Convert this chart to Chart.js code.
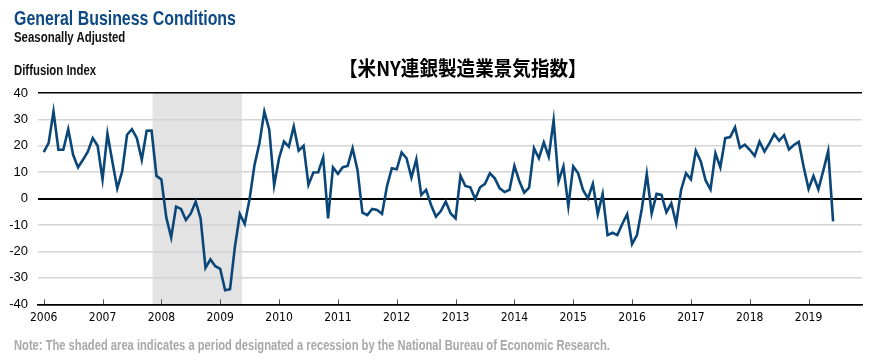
<!DOCTYPE html>
<html>
<head>
<meta charset="utf-8">
<script src="https://cdn.jsdelivr.net/npm/chart.js@4/dist/chart.umd.min.js"></script>
<style>
  body { margin: 0; background: #fff; }
  #wrap { position: relative; width: 879px; height: 361px; overflow: hidden; }
  canvas { position: absolute; left: 0; top: 0; }
  .txt { position: absolute; white-space: nowrap; font-family: "Liberation Sans", Arial, sans-serif; font-weight: bold; transform-origin: 0 0; }
</style>
</head>
<body>
<div id="wrap">
  <canvas id="EmpireChart" width="879" height="361"></canvas>
  <div class="txt" data-w="222" style="left:14px; top:6px; font-size:21px; color:#0d4a85;">General Business Conditions</div>
  <div class="txt" data-w="111" style="left:14px; top:29px; font-size:14px; color:#111;">Seasonally Adjusted</div>
  <div class="txt" data-w="82" style="left:14px; top:62px; font-size:14px; color:#111;">Diffusion Index</div>
  <div class="txt" data-w="248" style="left:339px; top:53px; font-size:20px; color:#000; font-family:'Noto Sans CJK JP', sans-serif;">【米NY連銀製造業景気指数】</div>
  <div class="txt" data-w="596" style="left:14px; top:337px; font-size:14px; color:#a8a8a8;">Note: The shaded area indicates a period designated a recession by the National Bureau of Economic Research.</div>
</div>
<script>
// squeeze the condensed-looking labels to the reference widths
document.querySelectorAll('.txt').forEach(function (el) {
  var target = +el.getAttribute('data-w');
  el.style.transform = 'scaleX(' + (target / el.offsetWidth) + ')';
});

// monthly index, Jan 2006 - Jun 2019
var startYear = 2006;
var conditions = [
  17.6, 21.0, 33.0, 18.5, 18.5, 26.3, 16.6, 11.8, 14.7, 17.8, 22.9, 20.0,
  7.3, 24.6, 14.1, 3.9, 10.3, 24.2, 26.3, 22.9, 14.7, 25.7, 25.8, 8.6,
  7.3, -7.1, -14.7, -3.0, -3.9, -8.1, -5.6, -1.1, -7.5, -26.2, -23.0, -25.6,
  -26.6, -34.7, -34.3, -18.2, -5.8, -9.6, 0.0, 12.8, 21.0, 33.0, 26.1, 5.1,
  15.3, 21.6, 19.7, 27.3, 18.2, 20.0, 5.2, 9.9, 10.0, 15.6, -7.5, 11.8,
  9.4, 11.9, 12.4, 19.1, 10.9, -5.3, -6.2, -3.9, -4.3, -5.8, 4.6, 11.5,
  11.1, 17.5, 15.3, 8.0, 14.9, 1.4, 3.3, -2.4, -6.8, -4.7, -1.1, -5.6,
  -7.5, 8.7, 4.8, 4.3, -0.1, 4.3, 5.6, 9.6, 7.7, 3.9, 2.5, 3.3,
  12.4, 6.7, 2.3, 4.2, 19.1, 15.3, 21.3, 15.9, 29.6, 6.5, 12.2, -2.8,
  12.2, 9.6, 3.3, 0.1, 5.6, -5.9, 1.8, -13.8, -12.9, -13.8, -9.6, -5.9,
  -17.2, -13.8, -3.7, 9.4, -5.6, 1.8, 1.4, -5.2, -1.8, -9.4, 3.3, 9.6,
  7.3, 18.1, 14.2, 6.9, 3.5, 17.2, 11.9, 22.9, 23.3, 27.0, 19.2, 20.4,
  18.5, 16.2, 21.6, 17.8, 20.9, 24.4, 21.9, 24.0, 18.6, 20.3, 21.5, 12.0,
  3.7, 8.6, 3.5, 10.6, 18.0, -8.6
];
var yearTicks = [2006, 2007, 2008, 2009, 2010, 2011, 2012, 2013, 2014, 2015, 2016, 2017, 2018, 2019];
var yTicks = [-40, -30, -20, -10, 0, 10, 20, 30, 40];
// NBER recession, in decimal years
var recession = [2007.85, 2009.37];

var points = conditions.map(function (v, i) {
  return { x: startYear + i / 12, y: v };
});

var shadePlugin = {
  id: 'shade',
  beforeDraw: function (chart) {
    var c = chart.ctx, a = chart.chartArea, xs = chart.scales.x;
    var x1 = xs.getPixelForValue(recession[0]);
    var x2 = xs.getPixelForValue(recession[1]);
    c.save();
    c.fillStyle = '#e3e3e3';
    c.fillRect(x1, a.top, x2 - x1, a.bottom - a.top);
    c.restore();
  }
};

var tickPlugin = {
  id: 'innerTicks',
  afterDatasetsDraw: function (chart) {
    var c = chart.ctx, a = chart.chartArea, xs = chart.scales.x;
    c.save();
    c.strokeStyle = '#555';
    c.lineWidth = 1;
    yearTicks.forEach(function (yr) {
      var px = Math.round(xs.getPixelForValue(yr)) + 0.5;
      c.beginPath();
      c.moveTo(px, a.bottom);
      c.lineTo(px, a.bottom - 5);
      c.stroke();
    });
    c.restore();
  }
};

var ctx = document.getElementById('EmpireChart').getContext('2d');
var EmpireChart = new Chart(ctx, {
  type: 'line',
  data: {
    datasets: [{
      label: 'General Business Conditions',
      data: points,
      borderColor: '#0b4679',
      borderWidth: 2.6,
      pointRadius: 0,
      tension: 0,
      fill: false
    }]
  },
  options: {
    responsive: false,
    animation: false,
    layout: { padding: { left: 0, top: 93, right: 17, bottom: 0 } },
    plugins: { legend: { display: false }, tooltip: { enabled: false } },
    scales: {
      x: {
        type: 'linear',
        min: 2005.903,
        max: 2019.908,
        afterBuildTicks: function (scale) {
          scale.ticks = yearTicks.map(function (y) { return { value: y }; });
        },
        afterFit: function (scale) { scale.height = 56.7; },
        grid: { display: false, drawTicks: false },
        border: { display: true, color: '#000', width: 1.5 },
        ticks: {
          padding: 6,
          maxRotation: 0,
          autoSkip: false,
          color: '#000',
          font: { family: '"DejaVu Sans Condensed", Arial', size: 12 },
          callback: function (v) { return String(v); }
        }
      },
      y: {
        min: -40,
        max: 40,
        afterBuildTicks: function (scale) {
          scale.ticks = yTicks.map(function (v) { return { value: v }; });
        },
        afterFit: function (scale) { scale.width = 38; },
        border: { display: false },
        grid: {
          drawTicks: false,
          color: function (c) {
            var v = c.tick ? c.tick.value : null;
            return (v === 0 || v === 40 || v === -40) ? '#000' : '#d4d4d4';
          },
          lineWidth: function (c) {
            var v = c.tick ? c.tick.value : null;
            return v === 0 ? 2 : 1.5;
          }
        },
        ticks: {
          padding: 10,
          color: '#000',
          font: { family: 'Arial, "Liberation Sans"', size: 13 }
        }
      }
    }
  },
  plugins: [shadePlugin, tickPlugin]
});
</script>
</body>
</html>
